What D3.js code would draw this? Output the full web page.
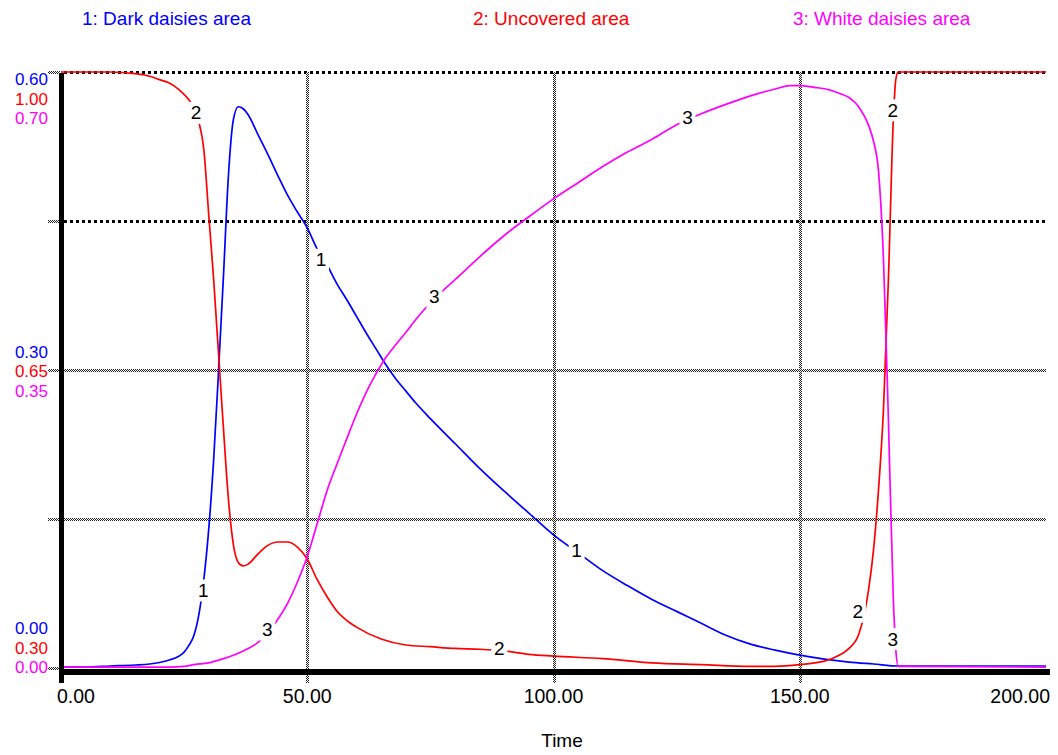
<!DOCTYPE html>
<html><head><meta charset="utf-8">
<script src="https://cdn.jsdelivr.net/npm/d3@7"></script>
<style>body{margin:0;background:#fff}svg{display:block;font-family:Arial,"Liberation Sans",sans-serif}</style>
</head><body><svg id="c" width="1058" height="755"></svg>
<script>
// ---- data ----
const darkTimes  = [0,5,10,15,18,20,22,24,25,26,27,28,29,30,31,32,33,34,35,36,37,38,40,42,44,46,48,50,52,54,56,58,60,62,64,66,68,70,72,75,80,85,90,95,100,105,110,115,120,125,130,135,140,145,150,155,160,165,170,200];
const darkValues = [0.001,0.001,0.002,0.003,0.004,0.0055,0.008,0.012,0.016,0.023,0.033,0.054,0.089,0.140,0.210,0.300,0.396,0.496,0.552,0.565,0.563,0.557,0.537,0.517,0.496,0.476,0.459,0.443,0.422,0.406,0.387,0.371,0.354,0.337,0.321,0.305,0.291,0.279,0.267,0.251,0.226,0.201,0.178,0.156,0.134,0.116,0.098,0.083,0.069,0.057,0.045,0.033,0.024,0.018,0.013,0.009,0.006,0.004,0.002,0.002];

const uncTimes  = [0,10,15,18,20,22,24,26,27,28,29,30,31,32,33,34,35,36,37,38,40,42,44,46,48,50,52,54,56,58,60,65,70,75,80,85,90,95,100,110,120,130,140,145,150,155,158,160,162,164,165,166,167,168,169,169.5,170,200];
const uncValues = [1.0,1.0,0.998,0.995,0.991,0.987,0.979,0.967,0.958,0.941,0.909,0.832,0.756,0.668,0.580,0.498,0.445,0.424,0.420,0.422,0.434,0.444,0.448,0.448,0.442,0.428,0.404,0.384,0.367,0.356,0.348,0.334,0.327,0.325,0.323,0.322,0.320,0.316,0.314,0.311,0.306,0.304,0.302,0.302,0.304,0.308,0.315,0.323,0.340,0.393,0.440,0.510,0.604,0.756,0.944,0.991,1.0,1.0];

const whiteTimes  = [0,20,25,27,30,33,35,37,40,42,44,46,48,50,52,54,56,58,60,62,64,66,68,70,72,75,80,85,90,95,100,105,110,115,120,125,130,135,140,145,148,150,153,156,158,160,162,164,165,166,167,168,169,169.5,170,200];
const whiteValues = [0.001,0.001,0.002,0.004,0.006,0.011,0.015,0.020,0.030,0.041,0.057,0.076,0.101,0.131,0.169,0.208,0.239,0.269,0.298,0.324,0.346,0.365,0.380,0.394,0.409,0.429,0.456,0.483,0.508,0.530,0.551,0.570,0.589,0.606,0.621,0.638,0.651,0.662,0.672,0.680,0.684,0.684,0.682,0.679,0.675,0.670,0.659,0.637,0.618,0.583,0.480,0.292,0.081,0.022,0.002,0.001];

const darkLabelTimes = [28.9,52.8,104.7];   const darkLabelValues = [0.078,0.411,0.118];
const uncLabelTimes  = [27.4,89,161.8,168.9]; const uncLabelValues = [0.952,0.323,0.366,0.955];
const whiteLabelTimes = [41.9,75.8,127.2,168.9]; const whiteLabelValues = [0.045,0.436,0.646,0.034];

const xTicks = [0,50,100,150,200];
const xTickLabels = ["0.00","50.00","100.00","150.00","200.00"];
const darkTickLabels  = ["0.00","0.30","0.60"];
const uncTickLabels   = ["0.30","0.65","1.00"];
const whiteTickLabels = ["0.00","0.35","0.70"];
const legendNames = ["1: Dark daisies area","2: Uncovered area","3: White daisies area"];

// ---- layout ----
const colors = ["#0000ff","#ff0000","#ff00ff"];
const X0 = 61, X1 = 1046, YT = 72, YB = 668;
const x = d3.scaleLinear().domain([0,200]).range([X0,X1]);
const yDark = d3.scaleLinear().domain([0,0.6]).range([YB,YT]);
const yUnc = d3.scaleLinear().domain([0.3,1.0]).range([YB,YT]);
const yWhite = d3.scaleLinear().domain([0,0.7]).range([YB,YT]);
const gridY = d3.scaleLinear().domain([0,4]).range([YB,YT]);

const svg = d3.select("#c");
const defs = svg.append("defs");
const pat = defs.append("pattern").attr("id","chk").attr("width",2).attr("height",2).attr("patternUnits","userSpaceOnUse");
pat.append("rect").attr("width",2).attr("height",2).attr("fill","#fff");
pat.append("rect").attr("width",1).attr("height",1).attr("fill","#222");
pat.append("rect").attr("x",1).attr("y",1).attr("width",1).attr("height",1).attr("fill","#222");

// horizontal gridlines
[1,2,3,4].forEach(i => {
  const gy = Math.round(gridY(i));
  if (i >= 3) {
    svg.append("line").attr("x1",X0+3).attr("x2",X1).attr("y1",gy+0.5).attr("y2",gy+0.5)
      .attr("stroke","#000").attr("stroke-width",3).attr("stroke-dasharray","3,3");
  } else {
    svg.append("rect").attr("x",X0).attr("y",gy-1).attr("width",X1-X0).attr("height",3).attr("fill","url(#chk)");
  }
});
// left stubs
[0,1,2,3,4].forEach(i => {
  const gy = Math.round(gridY(i));
  svg.append("rect").attr("x",48).attr("y",gy-1).attr("width",12).attr("height",3).attr("fill","url(#chk)");
});
// vertical gridlines
xTicks.slice(1,4).forEach(t => {
  svg.append("rect").attr("x",Math.round(x(t))-1).attr("y",YT).attr("width",3).attr("height",683-YT).attr("fill","url(#chk)");
});

// data lines
const series = [
  {t:darkTimes, v:darkValues, y:yDark, lt:darkLabelTimes, lv:darkLabelValues, n:"1"},
  {t:uncTimes, v:uncValues, y:yUnc, lt:uncLabelTimes, lv:uncLabelValues, n:"2"},
  {t:whiteTimes, v:whiteValues, y:yWhite, lt:whiteLabelTimes, lv:whiteLabelValues, n:"3"}
];
series.forEach((s,k) => {
  const pts = s.t.map((t,i)=>[t,s.v[i]]);
  const line = d3.line().x(d=>x(d[0])).y(d=>s.y(d[1])).curve(d3.curveMonotoneX);
  svg.append("path").attr("d",line(pts)).attr("fill","none").attr("stroke",colors[k]).attr("stroke-width",1.7);
});
// line labels
series.forEach((s,k) => {
  s.lt.forEach((t,i) => {
    const px = x(t), py = s.y(s.lv[i]);
    svg.append("rect").attr("x",px-8).attr("y",py-11).attr("width",16).attr("height",22).attr("fill","#fff");
    svg.append("text").attr("x",px).attr("y",py+6.5).attr("text-anchor","middle").attr("font-size",19).attr("fill","#000").text(s.n);
  });
});

// axes
svg.append("rect").attr("x",59).attr("y",YT+1).attr("width",5).attr("height",683-YT-1).attr("fill","#000");
svg.append("rect").attr("x",59).attr("y",669).attr("width",1050-59).attr("height",6).attr("fill","#000");

// y tick labels (three stacked per labelled gridline)
const groups = [
  {gi:4, off:[13,32.5,52], labs:[darkTickLabels[2],uncTickLabels[2],whiteTickLabels[2]]},
  {gi:2, off:[-12.5,7,26.5], labs:[darkTickLabels[1],uncTickLabels[1],whiteTickLabels[1]]},
  {gi:0, off:[-34,-14.5,5], labs:[darkTickLabels[0],uncTickLabels[0],whiteTickLabels[0]]}
];
groups.forEach(g => {
  const gy = gridY(g.gi);
  g.labs.forEach((l,k) => {
    svg.append("text").attr("x",48).attr("y",gy+g.off[k]).attr("text-anchor","end").attr("font-size",17).attr("fill",colors[k]).text(l);
  });
});

// x tick labels
xTicks.forEach((t,i) => {
  const anchor = i===0 ? "start" : (i===xTicks.length-1 ? "end" : "middle");
  const px = i===0 ? x(t)-4 : (i===xTicks.length-1 ? 1050 : x(t));
  svg.append("text").attr("x",px).attr("y",703).attr("text-anchor",anchor).attr("font-size",19.5).attr("fill","#000").text(xTickLabels[i]);
});
svg.append("text").attr("x",562).attr("y",747).attr("text-anchor","middle").attr("font-size",19).attr("fill","#000").text("Time");

// legend
const legendX = [82,473,793];
legendNames.forEach((n,k) => {
  svg.append("text").attr("x",legendX[k]).attr("y",25).attr("font-size",19).attr("fill",colors[k]).text(n);
});
</script></body></html>
